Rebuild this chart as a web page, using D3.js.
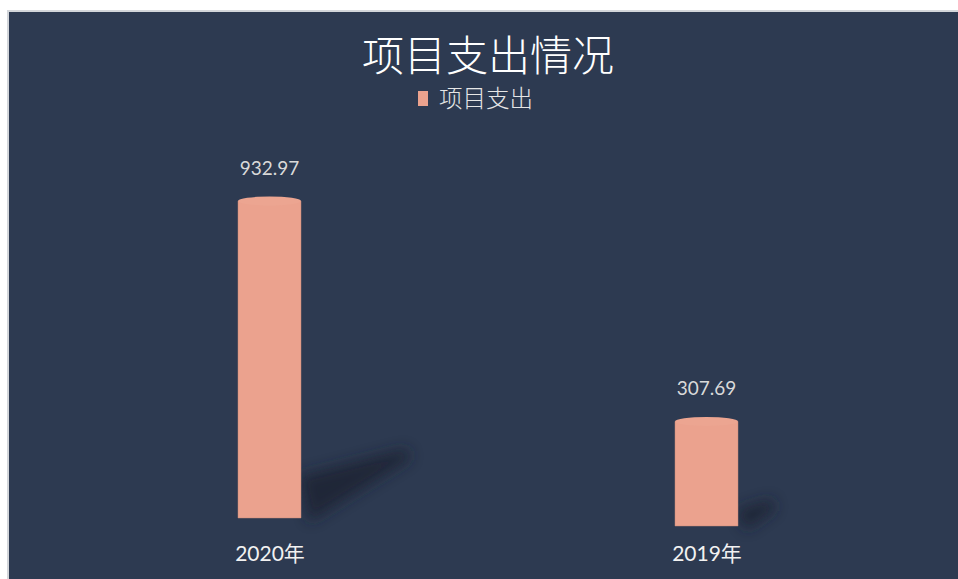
<!DOCTYPE html>
<html>
<head>
<meta charset="utf-8">
<script src="https://cdn.jsdelivr.net/npm/d3@7/dist/d3.min.js"></script>
<style>
  html, body { margin: 0; padding: 0; background: #ffffff; }
  svg { display: block; }
</style>
</head>
<body>
<script>
// ---- data ----
const title = "项目支出情况";
const seriesName = "项目支出";
const categories = ["2020年", "2019年"];
const values = [932.97, 307.69];
const valueLabels = ["932.97", "307.69"];

// ---- setup ----
const W = 958, H = 579;
const svg = d3.select("body").append("svg").attr("width", W).attr("height", H);

const defs = svg.append("defs");
defs.append("filter").attr("id", "blur").attr("x", "-50%").attr("y", "-50%").attr("width", "200%").attr("height", "200%")
  .append("feGaussianBlur").attr("stdDeviation", 7);

// frame
svg.append("rect").attr("x", 7).attr("y", 10).attr("width", W - 7).attr("height", H - 10).attr("fill", "#d3d6da");
svg.append("rect").attr("x", 9).attr("y", 12).attr("width", W - 9).attr("height", H - 12).attr("fill", "#2d3a51");

const cjk = "'Noto Sans CJK SC', 'Noto Sans', sans-serif";
const num = "Lato, 'Open Sans', sans-serif";

// title
svg.append("text").attr("x", 488).attr("y", 71).attr("text-anchor", "middle")
  .attr("font-family", cjk).attr("font-weight", 300).attr("font-size", 42).attr("fill", "#ffffff").text(title);

// legend
const lg = svg.append("g");
lg.append("rect").attr("x", 418).attr("y", 91).attr("width", 10).attr("height", 15).attr("fill", "#eba28e");
lg.append("text").attr("x", 439).attr("y", 107).attr("font-family", cjk).attr("font-weight", 300)
  .attr("font-size", 23.5).attr("fill", "#e6e6e6").text(seriesName);

// scales
const x = d3.scalePoint().domain(categories).range([269.5, 706.5]);
const baseY = d3.scaleLinear().domain([269.5, 706.5]).range([518, 526]); // slight perspective of the floor
const h = d3.scaleLinear().domain([0, d3.max(values)]).range([0, 317]);
const bw = 63, ry = 4.5;

const data = categories.map((c, i) => ({ c, v: values[i], label: valueLabels[i] }));

// shadows (wedge cast to the upper right, length follows bar height)
svg.append("g").selectAll("path").data(data).join("path")
  .attr("d", d => {
    const cx = x(d.c), b = baseY(cx), hh = h(d.v);
    const x0 = cx + bw / 2 - 2;
    const tx = x0 + hh * 0.34, ty = b - hh * 0.2;
    const w = Math.min(42, hh * 0.15);
    return `M${x0},${b - w} L${tx},${ty - 6} L${tx + 4},${ty + 4} L${x0 + 10},${b + 4} Z`;
  })
  .attr("fill", "#1b2333").attr("opacity", 0.8).attr("filter", "url(#blur)");

// bars (cylinders)
const bars = svg.append("g").selectAll("g").data(data).join("g");
bars.append("rect")
  .attr("x", d => x(d.c) - bw / 2)
  .attr("y", d => baseY(x(d.c)) - h(d.v))
  .attr("width", bw)
  .attr("height", d => h(d.v))
  .attr("fill", "#eba28e");
bars.append("ellipse")
  .attr("cx", d => x(d.c))
  .attr("cy", d => baseY(x(d.c)) - h(d.v))
  .attr("rx", bw / 2).attr("ry", ry)
  .attr("fill", "#eca591");
bars.append("path")
  .attr("d", d => {
    const cx = x(d.c), b = baseY(cx), t = b - h(d.v);
    return `M${cx - bw / 2},${t} L${cx - bw / 2},${b} L${cx + bw / 2},${b} L${cx + bw / 2},${t}`;
  })
  .attr("fill", "none").attr("stroke", "#c98a78").attr("stroke-width", 0.8).attr("opacity", 0.6);

// value labels
svg.append("g").selectAll("text").data(data).join("text")
  .attr("x", d => x(d.c))
  .attr("y", d => baseY(x(d.c)) - h(d.v) - 26)
  .attr("text-anchor", "middle")
  .attr("font-family", num).attr("font-size", 19).attr("fill", "#d9d9d9")
  .text(d => d.label);

// category labels (axis)
const axis = d3.axisBottom(x).tickSize(0).tickPadding(0);
const ax = svg.append("g").attr("transform", "translate(0,546)").call(axis);
ax.select(".domain").remove();
ax.selectAll("text").attr("font-family", "Lato, 'Noto Sans CJK SC', sans-serif").attr("font-size", 21)
  .attr("fill", "#f2f2f2").attr("dy", "0.71em");
</script>
</body>
</html>
